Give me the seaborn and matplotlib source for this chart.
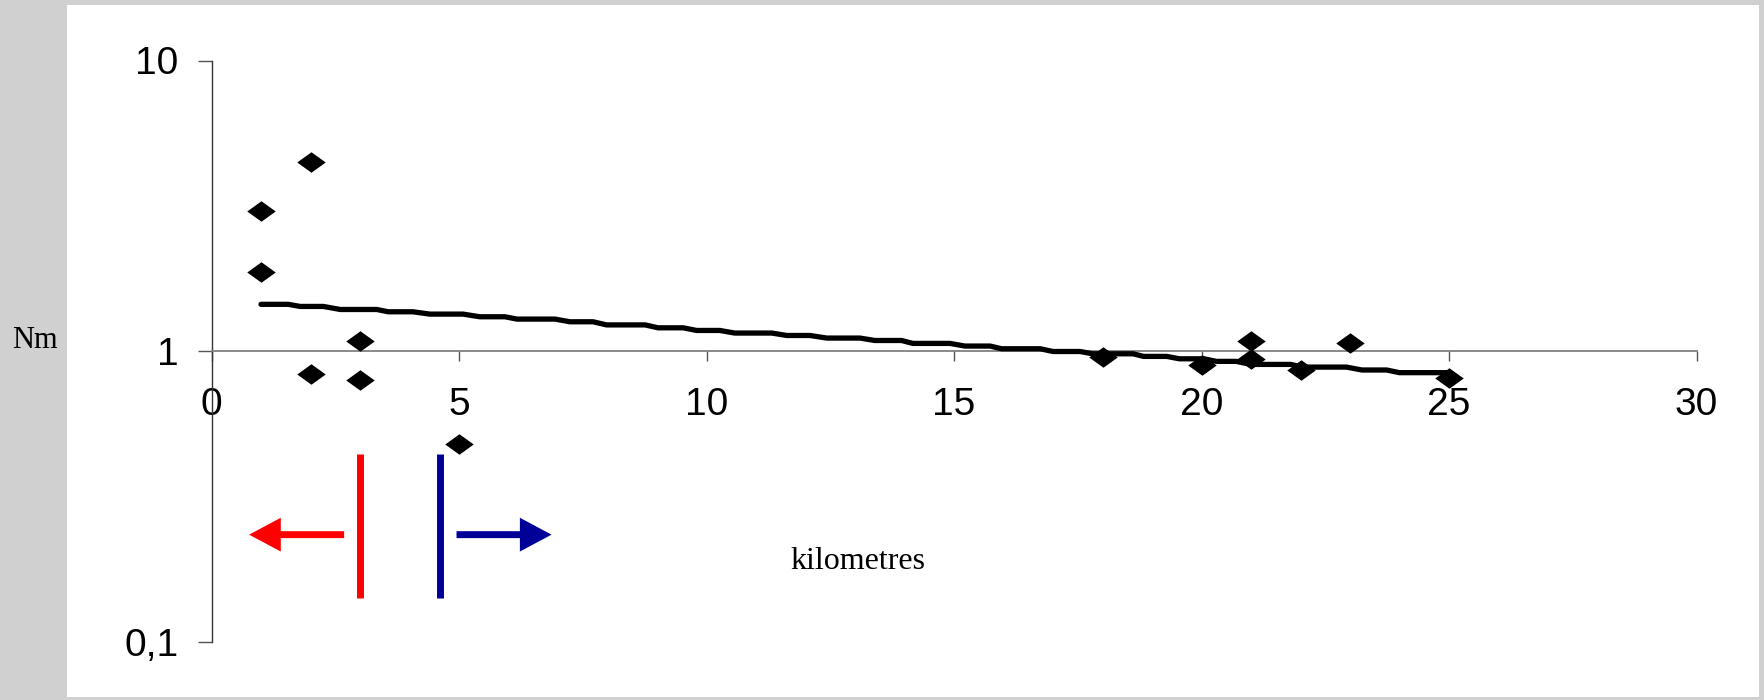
import matplotlib
matplotlib.use("Agg")
import matplotlib.pyplot as plt
import matplotlib.ticker as mticker
from matplotlib.patches import Rectangle
import seaborn as sns
import pandas as pd

# === данные ===
# измеренные точки (ромбы)
pts_km = [1, 1, 2, 2, 3, 3, 5, 18, 20, 21, 21, 22, 23, 25]
pts_nm = [3.03, 1.87, 4.48, 0.832, 1.087, 0.796, 0.479,
          0.955, 0.90, 1.084, 0.937, 0.859, 1.07, 0.809]

# кривая (ступеньки)
line_km = [1.00, 1.55, 1.79, 2.26, 2.60, 3.34, 3.57, 4.07, 4.41, 5.08,
           5.42, 5.93, 6.17, 6.94, 7.24, 7.71, 7.98, 8.76, 9.02, 9.53,
           9.80, 10.27, 10.57, 11.32, 11.62, 12.09, 12.43, 13.10, 13.40, 13.94,
           14.17, 14.92, 15.22, 15.73, 15.96, 16.74, 17.00, 17.55, 17.80, 18.62,
           18.83, 19.30, 19.55, 20.05, 20.30, 20.70, 21.00, 21.80, 22.05, 22.93,
           23.24, 23.74, 24.00, 25.00]
line_nm = [1.450, 1.450, 1.426, 1.426, 1.392, 1.392, 1.367, 1.367, 1.342, 1.342,
           1.314, 1.314, 1.290, 1.290, 1.263, 1.263, 1.232, 1.232, 1.204, 1.204,
           1.179, 1.179, 1.155, 1.155, 1.133, 1.133, 1.110, 1.110, 1.089, 1.089,
           1.064, 1.064, 1.042, 1.042, 1.020, 1.020, 0.998, 0.998, 0.980, 0.980,
           0.960, 0.960, 0.942, 0.942, 0.923, 0.923, 0.901, 0.901, 0.882, 0.882,
           0.862, 0.862, 0.844, 0.844]

x_ticks = [0, 5, 10, 15, 20, 25, 30]
y_ticks = [0.1, 1, 10]
y_tick_labels = ["0,1", "1", "10"]

sns.set_style("white")
plt.rcParams["font.family"] = ["Liberation Sans", "DejaVu Sans"]
plt.rcParams["text.color"] = "black"
plt.rcParams["xtick.color"] = "black"
plt.rcParams["ytick.color"] = "black"
plt.rcParams["axes.labelcolor"] = "black"

fig = plt.figure(figsize=(17.64, 7), dpi=100, facecolor="#d0d0d0")
# белая подложка графика
fig.patches.append(Rectangle((67 / 1764, 3 / 700), (1759 - 67) / 1764, (695.5 - 3) / 700,
                             transform=fig.transFigure, facecolor="white",
                             edgecolor="none", zorder=-10))

ax = fig.add_axes([211.5 / 1764, 1 - 642 / 700, 1485 / 1764, 581.5 / 700])
ax.set_zorder(1)
ax.patch.set_alpha(0)

df_line = pd.DataFrame({"km": line_km, "nm": line_nm})
df_pts = pd.DataFrame({"km": pts_km, "nm": pts_nm})

sns.lineplot(data=df_line, x="km", y="nm", sort=False, estimator=None,
             color="black", linewidth=3.8, solid_capstyle="round", ax=ax, zorder=3)

diamond = [(-1, 0), (0, 0.72), (1, 0), (0, -0.72), (-1, 0)]
sns.scatterplot(data=df_pts, x="km", y="nm", marker=diamond, s=420,
                color="black", edgecolor="black", linewidth=0, ax=ax, zorder=4)

ax.set_yscale("log")
ax.set_xlim(0, 30)
ax.set_ylim(0.1, 10)
ax.set_xticks(x_ticks)
ax.set_yticks(y_ticks)
ax.set_yticklabels(y_tick_labels)
ax.yaxis.set_minor_locator(mticker.NullLocator())

for s in ["top", "right"]:
    ax.spines[s].set_visible(False)
ax.spines["bottom"].set_position(("data", 1))
ax.spines["bottom"].set_color("#808080")
ax.spines["bottom"].set_linewidth(1.3)
ax.spines["left"].set_color("#333333")
ax.spines["left"].set_linewidth(1.0)

ax.tick_params(axis="x", direction="out", length=7.5, width=1, color="#555555",
               pad=18, labelsize=28, labelcolor="black", bottom=True)
ax.tick_params(axis="y", direction="out", length=10, width=1, color="#555555",
               pad=14, labelsize=28, labelcolor="black", left=True)

ax.set_xlabel("kilometres", family=["Liberation Serif", "DejaVu Serif"], fontsize=23,
              va="baseline", ha="center", color="black")
ax.xaxis.set_label_coords(0.4354, 0.1254)
ax.set_ylabel("Nm", family=["Liberation Serif", "DejaVu Serif"], fontsize=22,
              rotation=0, va="baseline", ha="center", color="black")
ax.yaxis.set_label_coords(-0.1189, 0.5052)

# стрелки: красная влево, синяя вправо
ax.plot([3.0, 3.0], [0.1419, 0.4418], color="#ff0000", linewidth=5, solid_capstyle="butt")
ax.plot([4.616, 4.616], [0.1419, 0.4418], color="#000099", linewidth=5, solid_capstyle="butt")
ax.annotate("", xy=(0.76, 0.234), xytext=(2.68, 0.234),
            arrowprops=dict(arrowstyle="-|>,head_length=15,head_width=8", mutation_scale=1,
                            lw=5, color="#ff0000", shrinkA=0, shrinkB=0,
                            joinstyle="miter", capstyle="butt"))
ax.annotate("", xy=(6.87, 0.234), xytext=(4.95, 0.234),
            arrowprops=dict(arrowstyle="-|>,head_length=15,head_width=8", mutation_scale=1,
                            lw=5, color="#000099", shrinkA=0, shrinkB=0,
                            joinstyle="miter", capstyle="butt"))

fig.savefig("out.png", dpi=100, facecolor=fig.get_facecolor())
